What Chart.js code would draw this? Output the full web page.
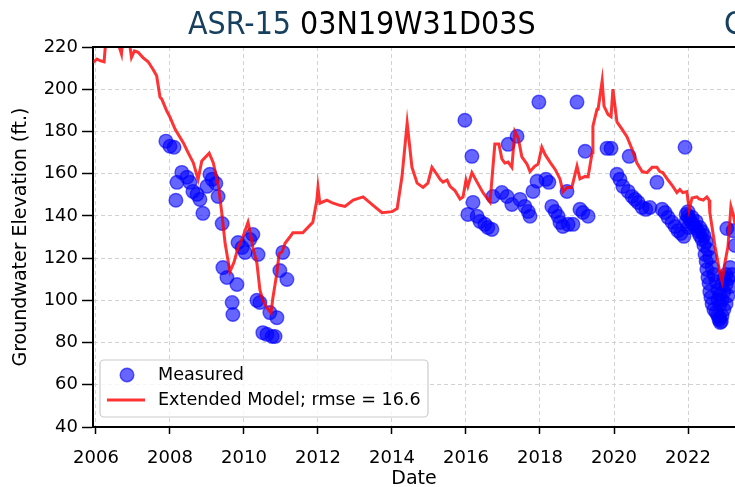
<!DOCTYPE html>
<html>
<head>
<meta charset="utf-8">
<script src="https://cdn.jsdelivr.net/npm/chart.js@4.4.0/dist/chart.umd.min.js"></script>
<style>
  html, body { margin: 0; padding: 0; background: #fff; }
  #wrap { width: 735px; height: 487px; position: relative; overflow: hidden; }
</style>
</head>
<body>
<div id="wrap"><canvas id="gwChart" width="735" height="487"></canvas></div>
<script>
// ---- data ----
const titleParts = ["ASR-15", "03N19W31D03S"];
const nextPanelTitle = "C";
const xTickLabels = ["2006", "2008", "2010", "2012", "2014", "2016", "2018", "2020", "2022"];
const yTickValues = [40, 60, 80, 100, 120, 140, 160, 180, 200, 220];
const measuredLabel = "Measured";
const modelLabel = "Extended Model; rmse = 16.6";

const measYears = [
  2007.89, 2008.00, 2008.11, 2008.16, 2008.19, 2008.32, 2008.46, 2008.54, 2008.62, 2008.73,
  2008.81, 2008.89, 2009.00, 2009.08, 2009.14, 2009.24, 2009.30, 2009.41, 2009.43, 2009.54,
  2009.68, 2009.70, 2009.81, 2009.84, 2009.95, 2010.03, 2010.16, 2010.24, 2010.35, 2010.38,
  2010.43, 2010.51, 2010.62, 2010.70, 2010.76, 2010.84, 2010.89, 2010.97, 2011.05, 2011.16,
  2015.97, 2016.05, 2016.16, 2016.19, 2016.30, 2016.38, 2016.51, 2016.59, 2016.70, 2016.73,
  2016.97, 2017.11, 2017.14, 2017.24, 2017.38, 2017.46, 2017.59, 2017.68, 2017.73, 2017.81,
  2017.92, 2017.97, 2018.16, 2018.24, 2018.32, 2018.41, 2018.49, 2018.54, 2018.62, 2018.73,
  2018.76, 2018.89, 2019.00, 2019.08, 2019.16, 2019.22, 2019.30,
  2019.81, 2019.92, 2020.08, 2020.16, 2020.24, 2020.38, 2020.41, 2020.49, 2020.57, 2020.65,
  2020.76, 2020.86, 2020.97, 2021.16, 2021.30, 2021.38, 2021.46, 2021.57, 2021.65, 2021.73,
  2021.81, 2021.89, 2021.92,
  2021.95, 2021.95, 2022.00, 2022.00, 2022.00, 2022.05, 2022.11, 2022.11, 2022.16, 2022.22,
  2022.22, 2022.27, 2022.32, 2022.32, 2022.38, 2022.38, 2022.43, 2022.43, 2022.46, 2022.49,
  2022.49, 2022.51, 2022.54, 2022.54, 2022.57, 2022.59, 2022.59, 2022.62, 2022.65, 2022.65,
  2022.70, 2022.70, 2022.76, 2022.76, 2022.81, 2022.81, 2022.81, 2022.86, 2022.86, 2022.86,
  2022.92, 2022.92, 2022.92, 2022.97, 2022.97, 2022.97, 2023.03, 2023.03, 2023.03, 2023.05,
  2023.08, 2023.08, 2023.14, 2023.14, 2023.19, 2023.22, 2023.27,
  2022.84, 2022.87, 2022.90
];
const measElev = [
  175.4, 173.0, 172.5, 147.4, 155.9, 160.6, 158.3, 155.9, 151.6, 150.2,
  147.8, 141.2, 154.0, 159.7, 157.3, 155.4, 149.2, 136.4, 115.5, 110.8,
  99.0, 93.3, 107.5, 127.4, 125.0, 122.7, 128.8, 131.2, 100.0, 121.7,
  99.0, 84.7, 83.9, 94.2, 82.9, 82.9, 91.8, 114.1, 122.7, 109.9,
  185.3, 140.7, 168.2, 146.4, 139.8, 137.4, 136.0, 134.5, 133.6, 149.2,
  151.1, 149.2, 173.9, 145.4, 177.7, 147.8, 144.5, 142.1, 139.8, 151.6,
  156.4, 193.9, 157.3, 155.9, 144.5, 142.1, 139.8, 136.9, 135.0, 151.6,
  136.0, 136.0, 193.9, 143.1, 141.6, 170.6, 139.8,
  172.0, 172.0, 159.7, 157.3, 154.0, 151.6, 168.2, 149.2, 147.8, 146.4,
  144.0, 143.1, 144.0, 155.9, 143.1, 141.6, 139.3, 137.0, 135.0, 133.0,
  131.7, 130.3, 172.5,
  140.7, 137.4, 142.0, 139.8, 134.5, 138.3, 136.4, 139.3, 135.5, 134.1,
  137.4, 132.6, 134.5, 130.7, 128.8, 132.6, 126.0, 130.7, 121.7, 118.4,
  127.9, 114.6, 110.8, 124.1, 108.0, 104.1, 120.3, 101.3, 98.4, 115.5,
  95.6, 112.2, 94.2, 108.9, 92.7, 105.0, 100.3, 91.8, 102.7, 98.0,
  92.7, 100.3, 107.5, 95.6, 104.1, 110.3, 98.4, 107.5, 112.2, 134.0,
  102.2, 110.3, 106.5, 115.5, 112.2, 133.0, 126.0,
  90.8, 89.5, 90.0
];

const modelYears = [
  2005.92, 2006.03, 2006.11, 2006.22, 2006.27, 2006.43, 2006.54, 2006.69, 2006.73, 2006.89,
  2006.96, 2007.04, 2007.14, 2007.27, 2007.41, 2007.54, 2007.64, 2007.73, 2007.78, 2007.91,
  2008.00, 2008.14, 2008.36, 2008.49, 2008.63, 2008.76, 2008.86, 2009.06, 2009.17, 2009.31,
  2009.40, 2009.49, 2009.62, 2009.73, 2009.84, 2009.97, 2010.11, 2010.16, 2010.24, 2010.35,
  2010.43, 2010.51, 2010.62, 2010.73, 2010.78, 2010.89, 2010.95, 2011.03, 2011.11, 2011.24,
  2011.32, 2011.59, 2011.78, 2011.86, 2011.97, 2012.00, 2012.05, 2012.24, 2012.41, 2012.59,
  2012.73, 2012.95, 2013.22, 2013.49, 2013.73, 2014.00, 2014.14, 2014.27, 2014.41, 2014.54,
  2014.68, 2014.84, 2014.97, 2015.08, 2015.22, 2015.30, 2015.38, 2015.49, 2015.57, 2015.70,
  2015.84, 2015.92, 2016.00, 2016.05, 2016.16, 2016.30, 2016.46, 2016.65, 2016.78, 2016.89,
  2016.97, 2017.05, 2017.14, 2017.24, 2017.32, 2017.41, 2017.51, 2017.65, 2017.73, 2017.86,
  2017.95, 2018.05, 2018.14, 2018.27, 2018.41, 2018.54, 2018.62, 2018.73, 2018.86, 2019.00,
  2019.08, 2019.22, 2019.30, 2019.41, 2019.43, 2019.54, 2019.57, 2019.68, 2019.73, 2019.84,
  2019.92, 2019.97, 2020.08, 2020.22, 2020.35, 2020.49, 2020.62, 2020.76, 2020.89, 2021.03,
  2021.16, 2021.24, 2021.32, 2021.46, 2021.59, 2021.70, 2021.78, 2021.86, 2021.97, 2022.03,
  2022.11, 2022.24, 2022.30, 2022.41, 2022.51, 2022.57, 2022.59, 2022.73, 2022.86, 2022.92,
  2023.00, 2023.08, 2023.16, 2023.22, 2023.27
];
const modelElev = [
  212.7, 214.3, 213.5, 213.0, 224.0, 226.0, 225.0, 216.7, 225.0, 224.0,
  215.1, 218.2, 217.5, 215.0, 213.0, 209.5, 206.4, 196.3, 195.3, 189.8,
  186.8, 181.0, 174.7, 170.0, 165.2, 157.3, 166.0, 169.7, 165.2, 154.1,
  141.5, 127.0, 113.5, 118.0, 125.0, 130.0, 137.0, 133.0, 125.0, 117.5,
  105.0, 100.0, 96.5, 94.0, 101.0, 113.0, 122.0, 123.0, 127.0, 130.0,
  132.0, 132.0, 135.5, 137.0, 147.5, 153.5, 146.0, 147.5, 146.0, 145.0,
  144.5, 147.5, 149.0, 145.0, 141.5, 142.0, 143.5, 158.5, 184.0, 163.0,
  155.5, 153.5, 155.5, 163.0, 159.5, 157.3, 156.0, 157.0, 154.0, 152.0,
  148.0, 149.0, 157.0, 154.0, 160.5, 156.0, 151.0, 146.5, 174.0, 174.0,
  167.0, 165.0, 165.5, 163.0, 180.0, 177.0, 168.0, 164.5, 161.0, 163.5,
  164.5, 172.5, 169.0, 165.5, 162.0, 157.5, 151.5, 153.5, 153.5, 163.5,
  157.5, 158.7, 158.5, 170.0, 182.5, 190.5, 190.5, 204.0, 192.0, 188.0,
  187.0, 200.0, 184.5, 181.0, 177.5, 171.5, 165.0, 161.0, 160.5, 163.0,
  163.0, 161.0, 160.5, 157.0, 154.0, 151.0, 152.5, 151.0, 151.5, 143.0,
  148.5, 149.0, 148.0, 147.5, 149.0, 147.5, 141.5, 125.5, 113.0, 109.0,
  118.0, 125.5, 144.5, 141.0, 136.0
];

const measuredPts = measYears.map((x, i) => ({ x, y: measElev[i] }));
const modelPts = modelYears.map((x, i) => ({ x, y: modelElev[i] }));

const tickFont = { family: "'DejaVu Sans', sans-serif", size: 18 };
const labelFont = { family: "'DejaVu Sans', sans-serif", size: 19, lineHeight: 0.8 };

// top spine, two-colour title and the framed legend
const decorPlugin = {
  id: 'decor',
  afterDraw(chart) {
    const { ctx, chartArea: { left, right, top } } = chart;
    ctx.save();

    // top spine
    ctx.strokeStyle = '#000';
    ctx.lineWidth = 2;
    ctx.beginPath();
    ctx.moveTo(left - 1, top);
    ctx.lineTo(right, top);
    ctx.stroke();

    // title
    ctx.font = "31.8px 'DejaVu Sans Condensed', 'DejaVu Sans', sans-serif";
    ctx.textBaseline = 'alphabetic';
    ctx.textAlign = 'left';
    const tx = 188, ty = 34;
    ctx.fillStyle = '#17405f';
    ctx.fillText(titleParts[0], tx, ty);
    const w1 = ctx.measureText(titleParts[0] + ' ').width;
    ctx.fillStyle = '#000';
    ctx.fillText(titleParts[1], tx + w1, ty);
    ctx.fillStyle = '#17405f';
    ctx.fillText(nextPanelTitle, 724, ty);

    // legend box
    const bx = left + 7, by = 360, bw = 328, bh = 57;
    ctx.fillStyle = 'rgba(255,255,255,0.8)';
    ctx.strokeStyle = '#cccccc';
    ctx.lineWidth = 1.2;
    ctx.beginPath();
    ctx.roundRect(bx, by, bw, bh, 4);
    ctx.fill();
    ctx.stroke();

    const ds = chart.data.datasets;
    // measured marker
    ctx.beginPath();
    ctx.arc(bx + 27, by + 15, 6.8, 0, Math.PI * 2);
    ctx.fillStyle = ds[0].backgroundColor;
    ctx.fill();
    ctx.lineWidth = ds[0].borderWidth;
    ctx.strokeStyle = ds[0].borderColor;
    ctx.stroke();
    // model line
    ctx.beginPath();
    ctx.moveTo(bx + 7, by + 40);
    ctx.lineTo(bx + 45, by + 40);
    ctx.lineWidth = ds[1].borderWidth;
    ctx.strokeStyle = ds[1].borderColor;
    ctx.stroke();

    ctx.font = "17.6px 'DejaVu Sans', sans-serif";
    ctx.fillStyle = '#000';
    ctx.textBaseline = 'middle';
    ctx.fillText(measuredLabel, bx + 58, by + 15);
    ctx.fillText(modelLabel, bx + 58, by + 40);

    ctx.restore();
  }
};

const ctx = document.getElementById('gwChart').getContext('2d');
new Chart(ctx, {
  type: 'scatter',
  data: {
    datasets: [
      {
        label: measuredLabel,
        data: measuredPts,
        backgroundColor: 'rgba(0,0,255,0.6)',
        borderColor: 'rgba(0,0,255,0.6)',
        borderWidth: 1.4,
        pointRadius: 6.8,
        order: 2
      },
      {
        label: modelLabel,
        data: modelPts,
        showLine: true,
        borderColor: 'rgba(255,0,0,0.8)',
        backgroundColor: 'rgba(255,0,0,0.8)',
        borderWidth: 3,
        pointRadius: 0,
        tension: 0,
        order: 1
      }
    ]
  },
  options: {
    responsive: false,
    animation: false,
    devicePixelRatio: 1,
    layout: { autoPadding: false, padding: { top: 47, right: 0, bottom: 0, left: 0 } },
    plugins: {
      legend: { display: false },
      tooltip: { enabled: false }
    },
    scales: {
      x: {
        type: 'linear',
        min: 2005.92,
        max: 2023.27,
        afterFit: s => { s.height = 60; s.paddingLeft = 0; s.paddingRight = 0; },
        afterBuildTicks: s => { s.ticks = xTickLabels.map(t => ({ value: Number(t) })); },
        ticks: {
          font: tickFont,
          color: '#000',
          padding: 14,
          maxRotation: 0,
          autoSkip: false,
          callback: (v, i) => xTickLabels[i]
        },
        grid: {
          color: '#d2d2d2',
          lineWidth: 1,
          tickColor: '#000',
          tickWidth: 1.5,
          tickLength: 7,
          tickBorderDash: []
        },
        border: { color: '#000', width: 2, dash: [4, 3] },
        title: {
          display: true,
          text: 'Date',
          font: labelFont,
          color: '#000',
          padding: { top: 0, bottom: 0 }
        }
      },
      y: {
        min: 40,
        max: 220,
        afterFit: s => { s.width = 93; s.paddingTop = 0; s.paddingBottom = 0; },
        afterBuildTicks: s => { s.ticks = yTickValues.map(v => ({ value: v })); },
        ticks: {
          font: tickFont,
          color: '#000',
          padding: 4,
          autoSkip: false,
          callback: v => String(v)
        },
        grid: {
          color: '#d2d2d2',
          lineWidth: 1,
          tickColor: '#000',
          tickWidth: 1.5,
          tickLength: 11,
          tickBorderDash: []
        },
        border: { color: '#000', width: 2, dash: [4, 3] },
        title: {
          display: true,
          text: 'Groundwater Elevation (ft.)',
          font: labelFont,
          color: '#000',
          padding: { top: 13, bottom: 0 }
        }
      }
    }
  },
  plugins: [decorPlugin]
});
</script>
</body>
</html>
